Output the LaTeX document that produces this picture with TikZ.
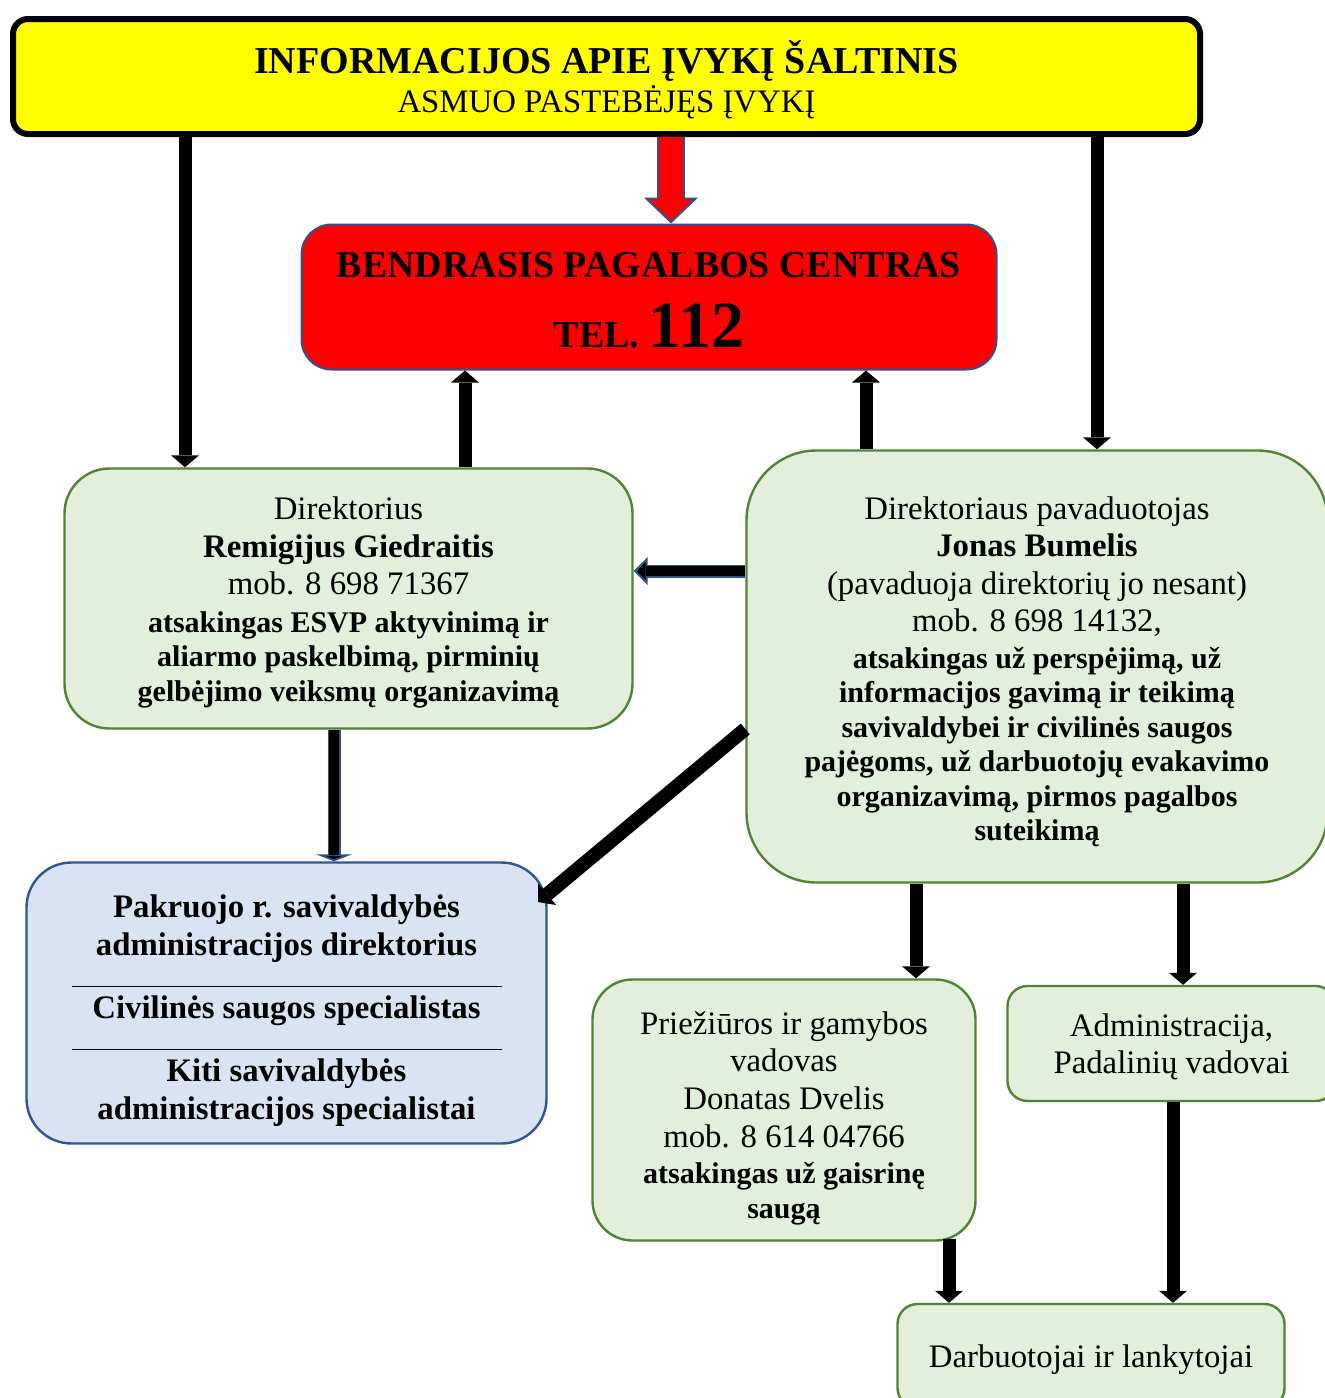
\documentclass[tikz,border=0pt]{standalone}
\usepackage{fontspec}
\setmainfont{Liberation Serif}
\usetikzlibrary{arrows.meta}
\definecolor{infoyellow}{HTML}{FFFF00}
\definecolor{centrered}{HTML}{FF0000}
\definecolor{edgeblue}{HTML}{2F528F}
\definecolor{leafgreen}{HTML}{E2EFDA}
\definecolor{edgegreen}{HTML}{548235}
\definecolor{paleblue}{HTML}{DAE3F3}
\definecolor{darkblue}{HTML}{2F5597}
\newcommand{\mainsize}{\fontsize{16.4}{18.8}\selectfont}
\newcommand{\smallbold}{\fontsize{15}{17.5}\selectfont\bfseries}
\newcommand{\headsize}{\fontsize{19}{22}\selectfont\bfseries}
\newcommand{\boxpad}[1]{\rule{0pt}{#1}}
\tikzset{
  Box1/.style = {
    draw = edgegreen, fill = leafgreen, line width = 1.2pt,
    inner sep = 0pt, align = center, font = \mainsize,
  },
  Box2/.style = {
    draw = darkblue, fill = paleblue, line width = 1.2pt,
    inner sep = 0pt, align = center, font = \mainsize\bfseries,
  },
  Arrow1/.style = {
    draw, line width = 6.5pt,
    -{Triangle[length = 6pt, width = 14pt, line width = 0pt]},
  },
  Arrow2/.style = {
    draw = edgeblue, line width = 6.5pt,
    -{Triangle[length = 7pt, width = 14pt, fill = black, line width = 1pt]},
  },
  Arrow2in/.style = {
    draw = black, line width = 4.6pt, shorten > = 6pt,
  },
  Arrow3/.style = {
    draw = edgeblue, line width = 14pt,
    -{Triangle[length = 13pt, width = 27pt, fill = centrered, line width = 1pt]},
  },
  Arrow3in/.style = {
    draw = centrered, line width = 12pt, shorten > = 12pt,
  }
}

\begin{document}
\begin{tikzpicture}[x = 0.5pt, y = -0.5pt]
  \useasboundingbox (0,0) rectangle (1325,1398);

  % top boxes
  \node[draw, fill = infoyellow, line width = 3pt, rounded corners = 7.5pt,
        minimum width = 593.5pt, minimum height = 57.5pt, inner sep = 0pt,
        align = center, font = \mainsize, text depth = 0pt]
    (info) at (606.5,76.5)
    {{\headsize INFORMACIJOS APIE ĮVYKĮ ŠALTINIS}\\[0.7pt]ASMUO PASTEBĖJĘS ĮVYKĮ};
  \node[draw = edgeblue, fill = centrered, line width = 1pt, rounded corners = 15pt,
        minimum width = 347.5pt, minimum height = 72.5pt, inner sep = 0pt,
        align = center, font = \headsize, text depth = 0pt]
    (bpc) at (649,297)
    {\boxpad{15.6pt}BENDRASIS PAGALBOS CENTRAS\\[12pt]TEL. {\fontsize{33}{36}\selectfont 112}};

  % middle boxes
  \node[Box1, rounded corners = 22.5pt, minimum width = 284pt, minimum height = 130pt,
        text depth = 0pt]
    (dir) at (348.5,598.5)
    {\boxpad{12pt}Direktorius\\
     \textbf{Remigijus Giedraitis}\\
     mob. 8 698 71367\\
     {\smallbold atsakingas ESVP aktyvinimą ir}\\[-1.6pt]
     {\smallbold aliarmo paskelbimą, pirminių}\\[-1.6pt]
     {\smallbold gelbėjimo veiksmų organizavimą}};
  \node[Box1, rounded corners = 35pt, minimum width = 290.5pt, minimum height = 216pt,
        text depth = 0pt]
    (dep) at (1037,666.5)
    {\boxpad{13.2pt}Direktoriaus pavaduotojas\\
     \textbf{Jonas Bumelis}\\
     (pavaduoja direktorių jo nesant)\\
     mob. 8 698 14132,\\[-0.5pt]
     {\smallbold atsakingas už perspėjimą, už}\\[-1.6pt]
     {\smallbold informacijos gavimą ir teikimą}\\[-1.6pt]
     {\smallbold savivaldybei ir civilinės saugos}\\[-1.6pt]
     {\smallbold pajėgoms, už darbuotojų evakavimo}\\[-1.6pt]
     {\smallbold organizavimą, pirmos pagalbos}\\[-1.6pt]
     {\smallbold suteikimą}};

  % lower boxes
  \node[Box2, rounded corners = 22.5pt, minimum width = 260pt, minimum height = 140.5pt,
        text depth = 0pt]
    (sav) at (286.5,1003)
    {\boxpad{15.3pt}Pakruojo r. savivaldybės\\
     administracijos direktorius\\[-3pt]
     \rule{215pt}{0.5pt}\\[-3pt]
     Civilinės saugos specialistas\\[-3pt]
     \rule{215pt}{0.5pt}\\[-3pt]
     Kiti savivaldybės\\
     administracijos specialistai};
  \node[Box1, rounded corners = 20pt, minimum width = 191.5pt, minimum height = 130.5pt,
        text depth = 0pt]
    (pri) at (784,1110)
    {\boxpad{16.2pt}Priežiūros ir gamybos\\
     vadovas\\
     Donatas Dvelis\\
     mob. 8 614 04766\\[-0.5pt]
     {\smallbold atsakingas už gaisrinę}\\[-1.6pt]
     {\smallbold saugą}};
  \node[Box1, rounded corners = 10pt, minimum width = 164pt, minimum height = 57.5pt,
        text depth = 0pt]
    (adm) at (1171.5,1043.5)
    {Administracija,\\Padalinių vadovai};
  \node[Box1, rounded corners = 10pt, minimum width = 193.5pt, minimum height = 52pt,
        text depth = 0pt]
    (dar) at (1091,1356)
    {Darbuotojai ir lankytojai};

  % arrows
  \draw[Arrow3] ([xshift = 32.25pt]info.south) -- ([xshift = 11pt]bpc.north);
  \draw[Arrow3in] ([xshift = 32.25pt]info.south) -- ([xshift = 11pt]bpc.north);
  \draw[Arrow1] ([xshift = -210.75pt]info.south) -- ([xshift = -81.75pt]dir.north);
  \draw[Arrow1] ([xshift = 245.25pt]info.south) -- ([xshift = 30pt]dep.north);
  \draw[Arrow1] ([xshift = 58.25pt]dir.north) -- ([xshift = -92pt]bpc.south);
  \draw[Arrow1] ([xshift = -85.5pt]dep.north) -- ([xshift = 108.5pt]bpc.south);
  \draw[Arrow2] ([yshift = 47.75pt]dep.west) -- ([yshift = 13.75pt]dir.east);
  \draw[Arrow2in] ([yshift = 47.75pt]dep.west) -- ([yshift = 13.75pt]dir.east);
  \draw[Arrow2, -{Triangle[length = 3.5pt, width = 18pt, fill = black, line width = 1pt]}]
    ([xshift = -7.25pt]dir.south) -- ([xshift = 23.75pt]sav.north);
  \draw[Arrow2in, shorten > = 3pt] ([xshift = -7.25pt]dir.south) -- ([xshift = 23.75pt]sav.north);
  \draw[Arrow1, line width = 7pt] ([yshift = -31.25pt]dep.west) -- ([xshift = 125.75pt, yshift = 50.5pt]sav.center);
  \draw[Arrow1] ([xshift = -60.5pt]dep.south) -- ([xshift = 66pt]pri.north);
  \draw[Arrow1] ([xshift = 73pt]dep.south) -- ([xshift = 5.75pt]adm.north);
  \draw[Arrow1] ([xshift = 82.5pt, yshift = 1.5pt]pri.south) -- ([xshift = -71pt]dar.north);
  \draw[Arrow1] ([xshift = 0.75pt]adm.south) -- ([xshift = 41pt]dar.north);
\end{tikzpicture}
\end{document}
